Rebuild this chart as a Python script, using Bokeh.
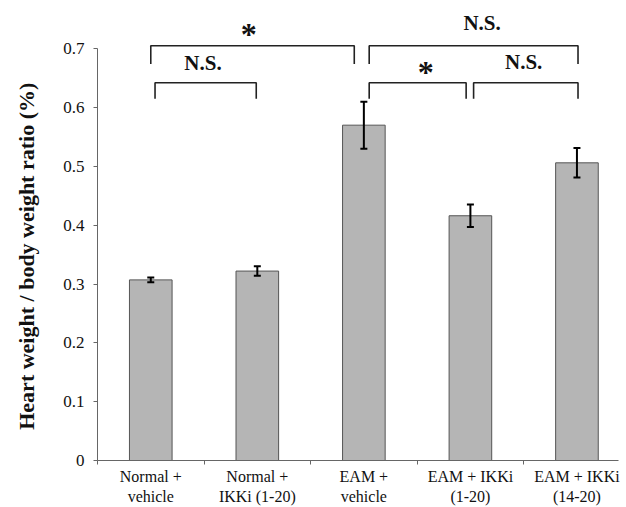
from bokeh.plotting import figure
from bokeh.models import FixedTicker, Range1d, Whisker, ColumnDataSource, TeeHead
from bokeh.core.properties import value
from bokeh.embed import file_html
from bokeh.resources import INLINE

# ---- data ----
categories = ["Normal +\nvehicle", "Normal +\nIKKi (1-20)", "EAM +\nvehicle",
              "EAM + IKKi\n(1-20)", "EAM + IKKi\n(14-20)"]
means = [0.307, 0.322, 0.570, 0.416, 0.506]
errors = [0.004, 0.008, 0.040, 0.019, 0.025]
y_ticks = [0, 0.1, 0.2, 0.3, 0.4, 0.5, 0.6, 0.7]

# significance brackets (x in category units, y in axis units)
br_x0 = [0.50, 0.54, 2.55, 2.55, 3.53]
br_x1 = [2.41, 1.49, 4.51, 3.46, 4.51]
br_ytop = [0.705, 0.642, 0.705, 0.642, 0.642]
br_ybot = [0.674, 0.615, 0.674, 0.615, 0.615]
sig_labels = ["*", "N.S.", "N.S.", "*", "N.S."]
sig_x = [1.42, 0.99, 3.61, 3.08, 4.0]
sig_y = [0.7256, 0.676, 0.744, 0.661, 0.677]

FONT = "Liberation Serif"
xc = [i + 0.5 for i in range(len(means))]

p = figure(width=620, height=507, output_backend="svg", toolbar_location=None,
           x_range=Range1d(0, 4.89), y_range=Range1d(0, 0.7598),
           min_border_left=97, min_border_right=2, min_border_top=13, min_border_bottom=40)
p.outline_line_color = None
p.grid.grid_line_color = None
p.background_fill_color = "white"

src = ColumnDataSource(dict(x=xc, top=means, lo=[m - e for m, e in zip(means, errors)],
                            hi=[m + e for m, e in zip(means, errors)]))
p.vbar(x="x", top="top", width=0.4, bottom=0, source=src,
       fill_color="#b5b5b5", line_color="#555555", line_width=1)

w = Whisker(base="x", upper="hi", lower="lo", source=src, line_color="black", line_width=2,
            level="annotation",
            upper_head=TeeHead(size=7, line_width=2, line_color="black"),
            lower_head=TeeHead(size=7, line_width=2, line_color="black"))
p.add_layout(w)

xs = [[a, a, b, b] for a, b in zip(br_x0, br_x1)]
ys = [[yb, yt, yt, yb] for yt, yb in zip(br_ytop, br_ybot)]
p.multi_line(xs, ys, line_color="#222222", line_width=1.6)

ns_idx = [i for i, s in enumerate(sig_labels) if s != "*"]
st_idx = [i for i, s in enumerate(sig_labels) if s == "*"]
p.text(x=[sig_x[i] for i in ns_idx], y=[sig_y[i] for i in ns_idx],
       text=[sig_labels[i] for i in ns_idx], text_font=value(FONT), text_font_style="bold",
       text_font_size="21px", text_align="center", text_baseline="middle", text_color="#111111")
p.text(x=[sig_x[i] for i in st_idx], y=[sig_y[i] for i in st_idx],
       text=[sig_labels[i] for i in st_idx], text_font=value(FONT), text_font_style="bold",
       text_font_size="32px", text_align="center", text_baseline="middle", text_color="#111111")

# axes
xa = p.xaxis[0]
xa.ticker = FixedTicker(ticks=xc, minor_ticks=[0, 1, 2, 3, 4, 5])
xa.major_label_overrides = {x: c for x, c in zip(xc, categories)}
xa.major_tick_out = 0
xa.major_tick_in = 0
xa.minor_tick_out = 4
xa.minor_tick_in = 0
xa.major_label_text_font = FONT
xa.major_label_text_font_size = "16px"
xa.major_label_standoff = 3
xa.axis_line_color = "#666666"
xa.minor_tick_line_color = "#666666"
xa.major_label_text_color = "#111111"

ya = p.yaxis[0]
ya.ticker = FixedTicker(ticks=y_ticks, minor_ticks=[])
ya.major_label_overrides = {0: "0"}
ya.bounds = (0, 0.7)
ya.major_tick_out = 4
ya.major_tick_in = 0
ya.major_label_text_font = FONT
ya.major_label_text_font_size = "17px"
ya.major_label_standoff = 9
ya.axis_line_color = "#666666"
ya.major_tick_line_color = "#666666"
ya.major_label_text_color = "#111111"
ya.axis_label = "Heart weight / body weight ratio (%)" + "\u00a0" * 7
ya.axis_label_text_font = FONT
ya.axis_label_text_font_style = "bold"
ya.axis_label_text_font_size = "22px"
ya.axis_label_text_color = "#111111"
ya.axis_label_standoff = 21

open("out.html", "w").write(file_html(p, INLINE))
